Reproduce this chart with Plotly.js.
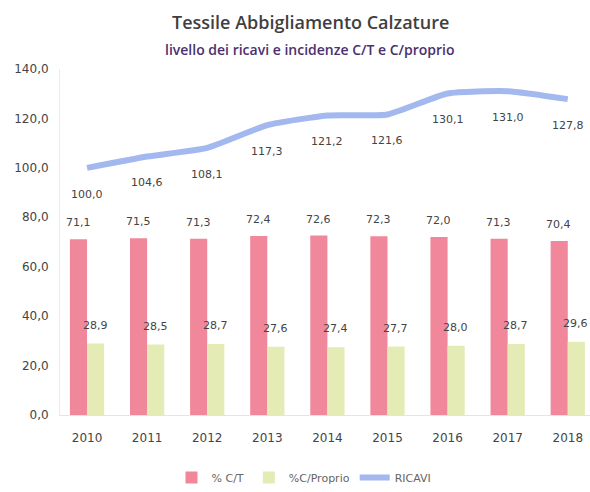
<!DOCTYPE html>
<html>
<head>
<meta charset="utf-8">
<script src="https://cdn.plot.ly/plotly-3.0.1.min.js"></script>
<style>html,body{margin:0;padding:0;background:#fff;}#chart{width:590px;height:492px;}</style>
</head>
<body>
<div id="chart"></div>
<script>
const years = ['2010','2011','2012','2013','2014','2015','2016','2017','2018'];
const pctCT = [71.1, 71.5, 71.3, 72.4, 72.6, 72.3, 72.0, 71.3, 70.4];
const pctCProprio = [28.9, 28.5, 28.7, 27.6, 27.4, 27.7, 28.0, 28.7, 29.6];
const ricavi = [100.0, 104.6, 108.1, 117.3, 121.2, 121.6, 130.1, 131.0, 127.8];
const yTicks = [0, 20, 40, 60, 80, 100, 120, 140];

const fmt = v => v.toFixed(1).replace('.', ',');

const traces = [
  {type: 'bar', name: '% C/T', x: years, y: pctCT, marker: {color: '#f0879a'}, hoverinfo: 'skip'},
  {type: 'bar', name: '%C/Proprio', x: years, y: pctCProprio, marker: {color: '#e4ebb4'}, hoverinfo: 'skip'},
  {type: 'scatter', mode: 'lines', name: 'RICAVI', x: years, y: ricavi,
   line: {color: '#a3b8ef', width: 6, shape: 'spline', smoothing: 0.5}, hoverinfo: 'skip'}
];

const annotations = [];
for (let i = 0; i < years.length; i++) {
  annotations.push({x: i, y: pctCT[i], xref: 'x', yref: 'y', text: fmt(pctCT[i]), showarrow: false,
    xshift: -9, yshift: 8, yanchor: 'bottom', font: {family: 'DejaVu Sans, sans-serif', size: 11, color: '#444'}});
  annotations.push({x: i, y: pctCProprio[i], xref: 'x', yref: 'y', text: fmt(pctCProprio[i]), showarrow: false,
    xshift: 8, yshift: 10, yanchor: 'bottom', font: {family: 'DejaVu Sans, sans-serif', size: 11, color: '#444'}});
  annotations.push({x: i, y: ricavi[i], xref: 'x', yref: 'y', text: fmt(ricavi[i]), showarrow: false,
    yshift: -18, yanchor: 'top', font: {family: 'DejaVu Sans, sans-serif', size: 11, color: '#444'}});
}
annotations.push({xref: 'paper', yref: 'paper', x: (310-60)/530, y: 1 + (69-22)/349, text: 'Tessile Abbigliamento Calzature',
  showarrow: false, xanchor: 'center', yanchor: 'middle', font: {family: 'Open Sans, sans-serif', size: 18, color: '#3f3f3f', weight: 600}});
annotations.push({xref: 'paper', yref: 'paper', x: (310-60)/530, y: 1 + (69-49)/349, text: 'livello dei ricavi e incidenze C/T e C/proprio',
  showarrow: false, xanchor: 'center', yanchor: 'middle', font: {family: 'Open Sans, sans-serif', size: 14, color: '#4b2f6e', weight: 600}});

const layout = {
  width: 590, height: 492,
  margin: {l: 60, r: 0, t: 69, b: 74},
  paper_bgcolor: '#fff', plot_bgcolor: '#fff',
  separators: ',.',
  barmode: 'group', bargap: 0.43, bargroupgap: 0,
  showlegend: true,
  legend: {orientation: 'h', x: (304-60)/530, xanchor: 'center', y: -(481-418)/349, yanchor: 'middle',
    font: {family: 'DejaVu Sans, sans-serif', size: 11, color: '#666'}, traceorder: 'normal'},
  xaxis: {type: 'category', range: [-0.45, 8.37], showgrid: false, zeroline: false,
    showline: true, linecolor: '#e4e4e4', linewidth: 1, ticks: '', ticklen: 0,
    tickfont: {family: 'DejaVu Sans, sans-serif', size: 12, color: '#444'}, ticklabelstandoff: 12},
  yaxis: {range: [0, 140], tickvals: yTicks, tickformat: '.1f', showgrid: false, zeroline: false,
    showline: true, linecolor: '#ececec', linewidth: 1, ticks: '',
    tickfont: {family: 'DejaVu Sans, sans-serif', size: 12, color: '#444'}, ticklabelstandoff: 8},
  annotations: annotations
};

Plotly.newPlot('chart', traces, layout, {displayModeBar: false, staticPlot: true});
</script>
</body>
</html>
